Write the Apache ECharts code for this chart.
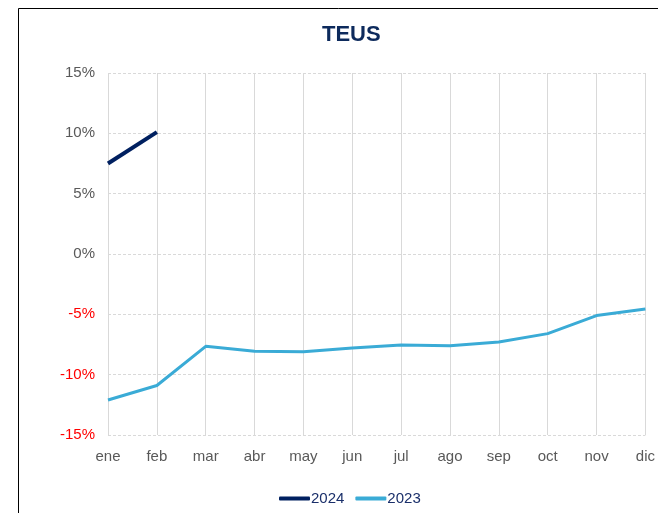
<!DOCTYPE html>
<html>
<head>
<meta charset="utf-8">
<script src="https://cdn.jsdelivr.net/npm/echarts@6/dist/echarts.min.js"></script>
<style>
  html, body { margin: 0; padding: 0; background: #fff; }
  #chart { width: 658px; height: 513px; }
</style>
</head>
<body>
<div id="chart"></div>
<script>
// Monthly variation of TEUs (%), by year
const months = ['ene', 'feb', 'mar', 'abr', 'may', 'jun', 'jul', 'ago', 'sep', 'oct', 'nov', 'dic'];
const teus2024 = [7.5, 10.1];
const teus2023 = [-12.1, -10.9, -7.65, -8.05, -8.1, -7.8, -7.55, -7.6, -7.3, -6.6, -5.1, -4.55];
const yTicks = { min: -15, max: 15, step: 5 };

const chart = echarts.init(document.getElementById('chart'));
const baseFont = 'Liberation Sans, Arial, sans-serif';

chart.setOption({
  animation: false,
  textStyle: { fontFamily: baseFont },
  graphic: [{
    type: 'rect',
    shape: { x: 18.5, y: 8.5, width: 700, height: 600 },
    style: { fill: 'none', stroke: '#000', lineWidth: 1 },
    silent: true
  }],
  title: {
    text: 'TEUS',
    left: 317,
    top: 19,
    textStyle: { fontSize: 22, fontWeight: 'bold', color: '#0d2a5c', fontFamily: baseFont }
  },
  legend: {
    top: 486,
    left: 274,
    itemWidth: 31,
    itemHeight: 4,
    itemGap: 11,
    icon: 'roundRect',
    textStyle: { fontSize: 15, color: '#1a2f6a', padding: [0, 0, 0, -4] },
    data: ['2024', '2023']
  },
  grid: { left: 108, right: 12, top: 73, bottom: 78 },
  xAxis: {
    type: 'category',
    data: months,
    boundaryGap: false,
    axisLine: { show: false },
    axisTick: { show: false },
    axisLabel: { color: '#595959', fontSize: 15, margin: 14 },
    splitLine: { show: true, lineStyle: { color: '#d9d9d9', width: 1 } }
  },
  yAxis: {
    type: 'value',
    min: yTicks.min,
    max: yTicks.max,
    interval: yTicks.step,
    axisLine: { show: false },
    axisTick: { show: false },
    axisLabel: {
      fontSize: 15,
      margin: 13,
      formatter: v => v < 0 ? '{neg|' + v + '%}' : '{pos|' + v + '%}',
      rich: {
        neg: { color: '#ff0000', fontSize: 15 },
        pos: { color: '#595959', fontSize: 15 }
      }
    },
    splitLine: { show: true, lineStyle: { color: '#d9d9d9', type: [3, 2], width: 1 } }
  },
  series: [
    {
      name: '2024',
      type: 'line',
      data: teus2024,
      symbol: 'none',
      lineStyle: { color: '#002060', width: 4 },
      itemStyle: { color: '#002060' }
    },
    {
      name: '2023',
      type: 'line',
      data: teus2023,
      symbol: 'none',
      lineStyle: { color: '#3aabd6', width: 3 },
      itemStyle: { color: '#3aabd6' }
    }
  ]
});
</script>
</body>
</html>
